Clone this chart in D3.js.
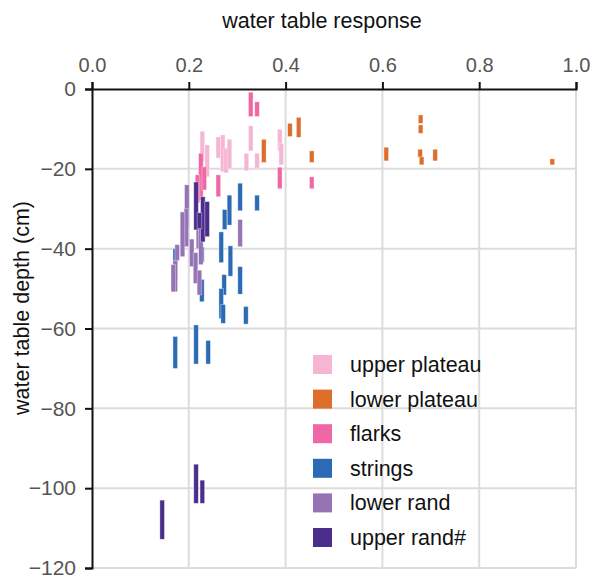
<!DOCTYPE html>
<html>
<head>
<meta charset="utf-8">
<title>water table response</title>
<script src="https://cdn.jsdelivr.net/npm/d3@7"></script>
<style>
  body { margin: 0; background: #fff; }
  svg text { font-family: "Liberation Sans", Arial, sans-serif; }
</style>
</head>
<body>
<div id="chart"></div>
<script>
// [response, top depth, bottom depth] per mark
const upperPlateau = [
  [0.228, -10.6, -18.2], [0.238, -14.0, -22.0], [0.261, -12.0, -17.3],
  [0.270, -11.5, -20.7], [0.277, -14.8, -21.0], [0.284, -12.6, -20.0],
  [0.319, -16.1, -20.5], [0.328, -9.2, -15.5], [0.341, -16.1, -19.8],
  [0.388, -10.1, -15.5], [0.391, -13.6, -19.0]
];
const lowerPlateau = [
  [0.355, -12.6, -18.4], [0.409, -8.6, -11.9], [0.427, -7.1, -12.1],
  [0.454, -15.5, -18.4], [0.608, -14.6, -18.0], [0.679, -6.5, -8.6],
  [0.679, -9.0, -11.1], [0.678, -15.1, -17.1], [0.681, -17.0, -19.0],
  [0.709, -15.1, -18.0], [0.951, -17.5, -19.0]
];
const flarks = [
  [0.328, -0.8, -6.9], [0.341, -3.2, -6.9], [0.225, -16.1, -27.8],
  [0.218, -21.5, -28.5], [0.232, -19.5, -25.3], [0.261, -21.5, -27.0],
  [0.388, -19.6, -25.0], [0.454, -22.0, -25.0]
];
const strings = [
  [0.284, -26.6, -34.1], [0.306, -23.6, -30.5], [0.341, -26.6, -30.5],
  [0.274, -30.2, -35.2], [0.227, -39.6, -43.3], [0.227, -47.7, -53.3],
  [0.172, -40.0, -48.0], [0.267, -35.8, -43.5], [0.286, -39.3, -46.9],
  [0.306, -44.5, -51.4], [0.273, -46.5, -51.6], [0.267, -50.0, -57.5],
  [0.271, -54.0, -58.7], [0.318, -54.5, -58.9], [0.172, -62.0, -70.0],
  [0.215, -59.1, -68.9], [0.240, -63.0, -68.9]
];
const lowerRand = [
  [0.196, -24.0, -34.5], [0.195, -30.0, -39.5], [0.306, -32.7, -39.5],
  [0.187, -30.8, -42.0], [0.206, -37.6, -44.5], [0.220, -32.0, -40.0],
  [0.214, -41.0, -48.7], [0.222, -45.4, -51.6], [0.172, -42.9, -50.8],
  [0.168, -44.0, -50.8], [0.176, -39.0, -43.0], [0.225, -34.0, -44.0]
];
const upperRand = [
  [0.215, -23.3, -35.3], [0.229, -27.0, -38.3], [0.238, -28.2, -37.0],
  [0.222, -31.0, -35.0], [0.145, -103.0, -112.8], [0.215, -94.0, -103.8],
  [0.228, -98.0, -103.8]
];

const categories = ["upper plateau", "lower plateau", "flarks", "strings", "lower rand", "upper rand#"];
const colors = ["#f5b5d3", "#dc6d2a", "#f067a6", "#2b6bb5", "#9573b5", "#4b2d8b"];
const series = [upperPlateau, lowerPlateau, flarks, strings, lowerRand, upperRand];
const xTicks = [0, 0.2, 0.4, 0.6, 0.8, 1.0];
const yTicks = [0, -20, -40, -60, -80, -100, -120];

const width = 590, height = 580;
const plotLeft = 92, plotRight = 576, plotTop = 89, plotBottom = 568;

const svg = d3.select("#chart").append("svg")
  .attr("width", width)
  .attr("height", height);

const x = d3.scaleLinear().domain([0, 1]).range([plotLeft, plotRight]);
const y = d3.scaleLinear().domain([0, -120]).range([plotTop, plotBottom]);

// grid
svg.append("g").selectAll("line")
  .data(xTicks.slice(1))
  .join("line")
    .attr("x1", d => x(d)).attr("x2", d => x(d))
    .attr("y1", plotTop).attr("y2", plotBottom)
    .attr("stroke", "#dcdcdc").attr("stroke-width", 2);
svg.append("g").selectAll("line")
  .data(yTicks.slice(1))
  .join("line")
    .attr("x1", plotLeft).attr("x2", plotRight)
    .attr("y1", d => y(d)).attr("y2", d => y(d))
    .attr("stroke", "#dcdcdc").attr("stroke-width", 2);

// marks
series.forEach((rows, i) => {
  svg.append("g").selectAll("rect")
    .data(rows)
    .join("rect")
      .attr("x", d => x(d[0]) - 2.3)
      .attr("width", 4.6)
      .attr("y", d => y(d[1]))
      .attr("height", d => y(d[2]) - y(d[1]))
      .attr("fill", colors[i])
      .attr("stroke", "#fff")
      .attr("stroke-opacity", 0.45)
      .attr("stroke-width", 0.8);
});

// axes
const xAxis = svg.append("g")
  .attr("transform", `translate(0,${plotTop})`)
  .call(d3.axisTop(x).tickValues(xTicks).tickFormat(d3.format(".1f")).tickSize(7).tickPadding(10));
const yAxis = svg.append("g")
  .attr("transform", `translate(${plotLeft},0)`)
  .call(d3.axisLeft(y).tickValues(yTicks).tickSize(7).tickPadding(9));

[xAxis, yAxis].forEach(a => {
  a.select(".domain").attr("stroke", "#111").attr("stroke-width", 2);
  a.selectAll(".tick line").attr("stroke", "#111").attr("stroke-width", 2);
  a.selectAll(".tick text").attr("fill", "#555").style("font-size", "21px");
});
xAxis.selectAll(".tick text").style("font-size", "20px");

// titles
svg.append("text")
  .attr("x", 322).attr("y", 28)
  .attr("text-anchor", "middle")
  .style("font-size", "21.5px").attr("fill", "#111")
  .text("water table response");
svg.append("text")
  .attr("transform", "translate(29,308) rotate(-90)")
  .attr("text-anchor", "middle")
  .style("font-size", "21.5px").attr("fill", "#111")
  .text("water table depth (cm)");

// legend
const legend = svg.append("g").attr("transform", "translate(313,355)");
const item = legend.selectAll("g")
  .data(categories)
  .join("g")
    .attr("transform", (d, i) => `translate(0,${i * 34.6})`);
item.append("rect")
  .attr("width", 19).attr("height", 19)
  .attr("fill", (d, i) => colors[i]);
item.append("text")
  .attr("x", 37).attr("y", 17)
  .style("font-size", "21.5px").attr("fill", "#111")
  .text(d => d);
</script>
</body>
</html>
